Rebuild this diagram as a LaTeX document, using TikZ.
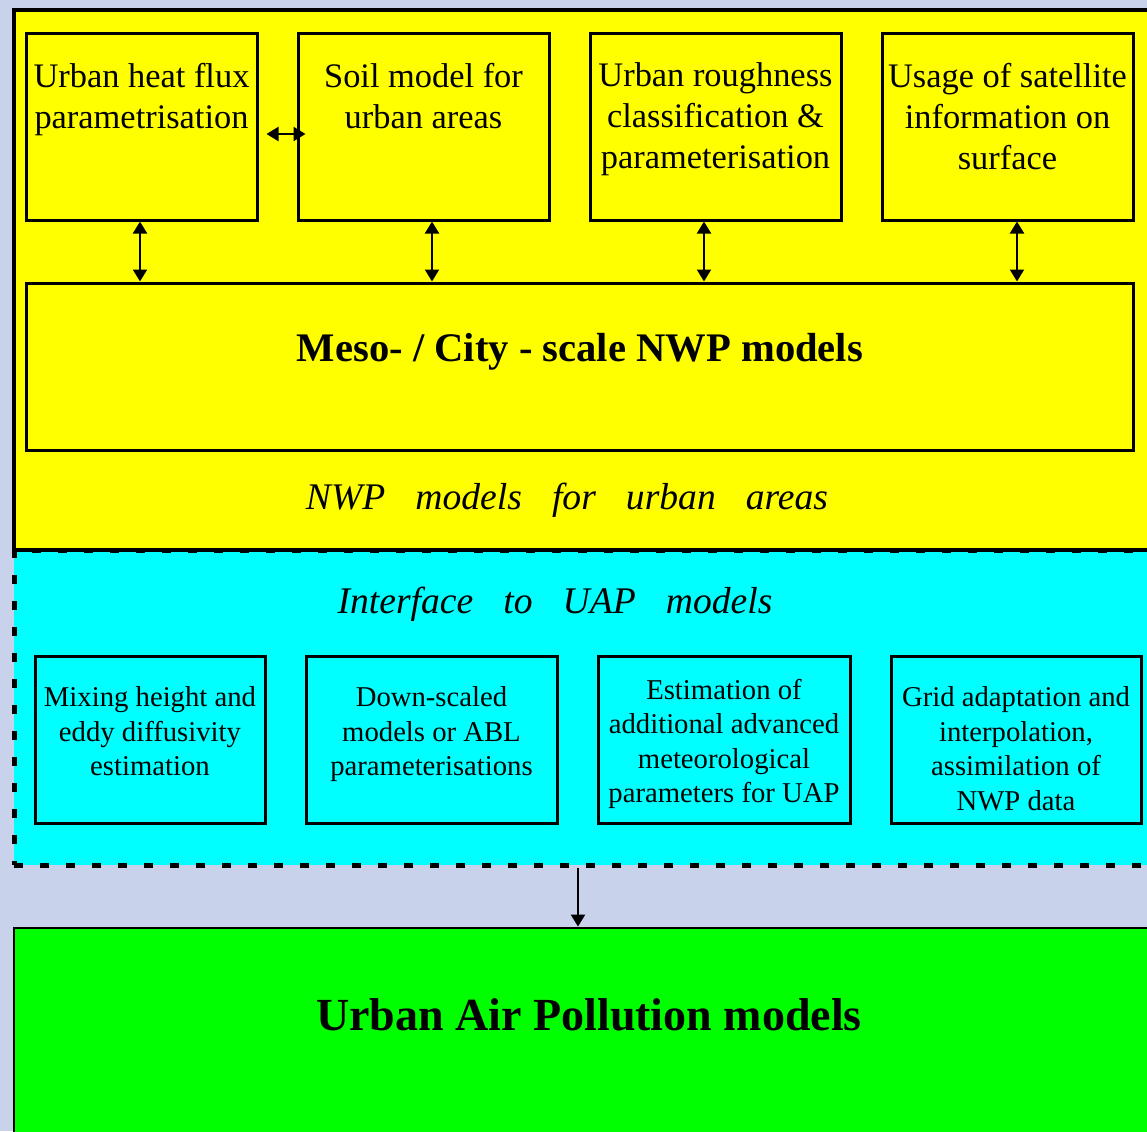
\documentclass[tikz,border=0pt]{standalone}
\usepackage{fontspec}
\setmainfont{Liberation Serif}
\usetikzlibrary{calc,arrows.meta}

\definecolor{skyback}{RGB}{200,210,234}
\definecolor{nwpyellow}{RGB}{255,255,0}
\definecolor{uapcyan}{RGB}{0,255,255}
\definecolor{uapgreen}{RGB}{0,255,0}

\newcommand{\widewords}{\spaceskip=0.8em\relax}

\tikzset{
  nwppanel/.style={draw,fill=nwpyellow,line width=2.4pt,inner sep=0pt},
  ifacepanel/.style={draw,fill=uapcyan,line width=2.5pt,dash pattern=on 4.5pt off 8.5pt,inner sep=0pt},
  uappanel/.style={draw,fill=uapgreen,line width=1.4pt,inner sep=0pt},
  ybox/.style={draw,fill=nwpyellow,line width=1.5pt,inner sep=0pt,minimum height=93.5pt},
  cbox/.style={draw,fill=uapcyan,line width=1.5pt,inner sep=0pt,minimum height=83.5pt},
  toptext/.style={anchor=north,inner sep=0pt,align=center,font=\fontsize{17.2}{20.5}\selectfont},
  lowtext/.style={anchor=north,inner sep=0pt,align=center,font=\fontsize{14.35}{17.25}\selectfont},
  bigtext/.style={inner sep=0pt,font=\bfseries\fontsize{20.3}{24}\selectfont},
  areatext/.style={inner sep=0pt,font={\itshape\fontsize{18.8}{22}\selectfont\widewords}}
}

\begin{document}
\begin{tikzpicture}[x=0.5pt,y=-0.5pt,>={Triangle[length=6pt,width=7pt]},line width=1pt]
  \clip (0,0) rectangle (1147,1131);
  \fill[skyback] (0,0) rectangle (1147,1131);

  % the three layers
  \node[ifacepanel,minimum width=578pt,minimum height=157.5pt] (iface) at (592,707.5) {};
  \node[nwppanel,minimum width=578pt,minimum height=270pt] (nwparea) at (592,280) {};
  \node[uappanel,minimum width=578pt,minimum height=136pt] (uap) at (592,1064) {};

  % NWP part
  \node[ybox,minimum width=115.5pt] (hf) at (141.5,126.5) {};
  \node[ybox,minimum width=125.5pt] (soil) at (423.5,126.5) {};
  \node[ybox,minimum width=125.5pt] (rough) at (715.5,126.5) {};
  \node[ybox,minimum width=125.5pt] (sat) at (1007.5,126.5) {};
  \node[toptext] at ($(hf.north)+(0,30.5)$) {Urban heat flux\\parametrisation};
  \node[toptext] at ($(soil.north)+(0,30.5)$) {Soil model for\\urban areas};
  \node[toptext] at ($(rough.north)+(0,30.5)$) {Urban roughness\\classification \&\\parameterisation};
  \node[toptext] at ($(sat.north)+(0,30.5)$) {Usage of satellite\\information on\\surface};
  \node[ybox,minimum width=553.5pt,minimum height=83.5pt] (nwp) at (579.5,366.5) {};
  \node[bigtext] (nwptitle) at (580,351.5) {Meso- / City - scale NWP models};
  \node[areatext] (nwplabel) at (567,500) {NWP models for urban areas};

  \draw[<->] ($(hf.east)+(8,7.5)$) -- ($(soil.west)+(9,7.5)$);
  \draw[<->] ([xshift=-0.75pt]hf.south) -- ([xshift=-0.75pt]hf.south |- nwp.north);
  \draw[<->] ([xshift=4.25pt]soil.south) -- ([xshift=4.25pt]soil.south |- nwp.north);
  \draw[<->] ([xshift=-5.75pt]rough.south) -- ([xshift=-5.75pt]rough.south |- nwp.north);
  \draw[<->] ([xshift=4.75pt]sat.south) -- ([xshift=4.75pt]sat.south |- nwp.north);

  % interface part
  \node[areatext] (ifacelabel) at (555,604) {Interface to UAP models};
  \node[cbox,minimum width=115pt] (mix) at (150,739.5) {};
  \node[cbox,minimum width=125.5pt] (down) at (431.5,739.5) {};
  \node[cbox,minimum width=126pt] (est) at (724,739.5) {};
  \node[cbox,minimum width=125pt] (grid) at (1016,739.5) {};
  \node[lowtext] at ($(mix.north)+(0,31.5)$) {Mixing height and\\eddy diffusivity\\estimation};
  \node[lowtext] at ($(down.north)+(0,31.5)$) {Down-scaled\\models or ABL\\parameterisations};
  \node[lowtext] at ($(est.north)+(0,23.5)$) {Estimation of\\additional advanced\\meteorological\\parameters for UAP};
  \node[lowtext] at ($(grid.north)+(0,31.5)$) {Grid adaptation and\\interpolation,\\assimilation of\\NWP data};

  % UAP part
  \draw[->] ([xshift=-7pt]iface.south) -- ([xshift=-7pt]uap.north);
  \node[bigtext,font=\bfseries\fontsize{23}{27}\selectfont] (uaptitle) at (589,1015) {Urban Air Pollution models};
\end{tikzpicture}
\end{document}
